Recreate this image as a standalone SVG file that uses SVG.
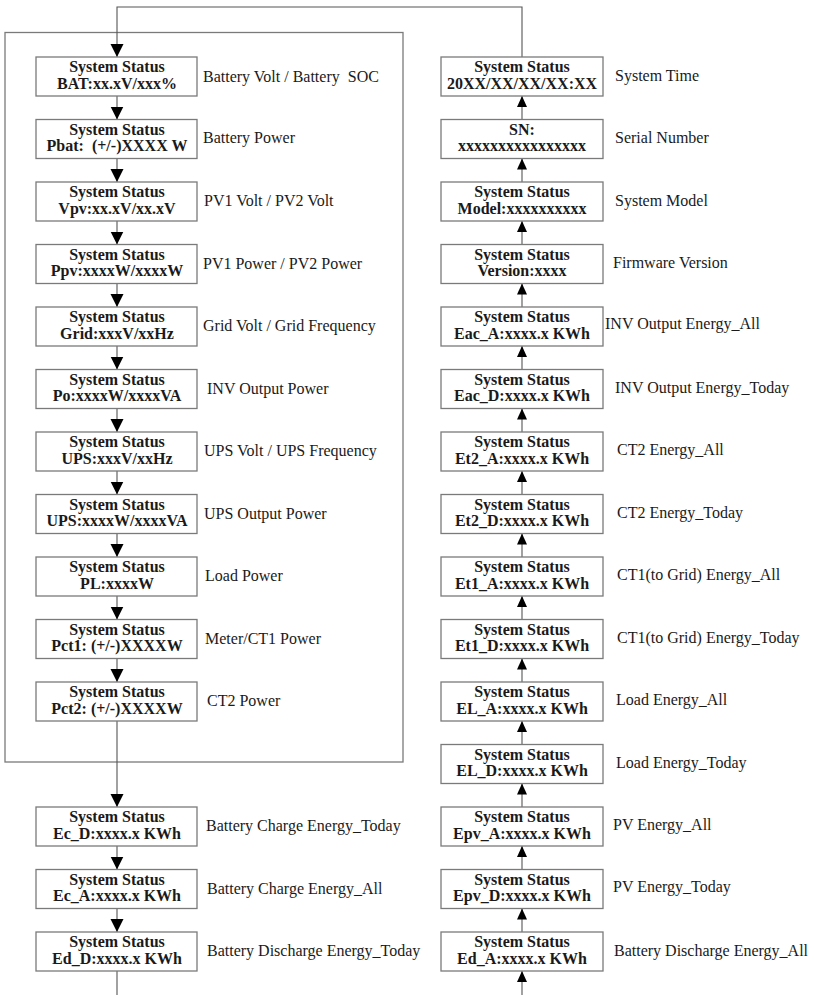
<svg xmlns="http://www.w3.org/2000/svg" width="814" height="995" viewBox="0 0 814 995">
<style>
.bg{fill:#ffffff}
.frame{fill:none;stroke:#7a7a7a;stroke-width:1.3}
.box{fill:#ffffff;stroke:#7a7a7a;stroke-width:1.3}
.bt{font-family:"Liberation Serif","Times New Roman",serif;font-weight:bold;font-size:16px;fill:#1a1a1a;text-anchor:middle}
.lb{font-family:"Liberation Serif","Times New Roman",serif;font-size:16px;fill:#1a1a1a;white-space:pre}
.ln{fill:none;stroke:#555555;stroke-width:1.1}
</style>
<defs>
<marker id="ad" markerUnits="userSpaceOnUse" markerWidth="14" markerHeight="14" refX="13" refY="6.5" orient="auto" viewBox="0 0 14 13">
<polygon points="0,0 13,6.5 0,13" fill="#000"/>
</marker>
<marker id="au" markerUnits="userSpaceOnUse" markerWidth="12" markerHeight="12" refX="11" refY="5" orient="auto" viewBox="0 0 12 10">
<polygon points="0,0 11,5 0,10" fill="#000"/>
</marker>
</defs>
<rect class="bg" x="0" y="0" width="814" height="995"/>
<rect class="frame" x="5" y="32.5" width="398" height="729.5"/>
<g id="connectors">
<polyline class="ln" points="522,57 522,7 117,7 117,57" marker-end="url(#ad)"/>
<line class="ln" x1="117" y1="96" x2="117" y2="119.5" marker-end="url(#ad)"/>
<line class="ln" x1="117" y1="158.5" x2="117" y2="182" marker-end="url(#ad)"/>
<line class="ln" x1="117" y1="221" x2="117" y2="244.5" marker-end="url(#ad)"/>
<line class="ln" x1="117" y1="283.5" x2="117" y2="307" marker-end="url(#ad)"/>
<line class="ln" x1="117" y1="346" x2="117" y2="369.5" marker-end="url(#ad)"/>
<line class="ln" x1="117" y1="408.5" x2="117" y2="432" marker-end="url(#ad)"/>
<line class="ln" x1="117" y1="471" x2="117" y2="494.5" marker-end="url(#ad)"/>
<line class="ln" x1="117" y1="533.5" x2="117" y2="557" marker-end="url(#ad)"/>
<line class="ln" x1="117" y1="596" x2="117" y2="619.5" marker-end="url(#ad)"/>
<line class="ln" x1="117" y1="658.5" x2="117" y2="682" marker-end="url(#ad)"/>
<line class="ln" x1="117" y1="721" x2="117" y2="807" marker-end="url(#ad)"/>
<line class="ln" x1="117" y1="846" x2="117" y2="869.5" marker-end="url(#ad)"/>
<line class="ln" x1="117" y1="908.5" x2="117" y2="932" marker-end="url(#ad)"/>
<line class="ln" x1="117" y1="971" x2="117" y2="995"/>
<line class="ln" x1="522" y1="995" x2="522" y2="971" marker-end="url(#au)"/>
<line class="ln" x1="522" y1="932" x2="522" y2="908.5" marker-end="url(#au)"/>
<line class="ln" x1="522" y1="869.5" x2="522" y2="846" marker-end="url(#au)"/>
<line class="ln" x1="522" y1="807" x2="522" y2="783.5" marker-end="url(#au)"/>
<line class="ln" x1="522" y1="744.5" x2="522" y2="721" marker-end="url(#au)"/>
<line class="ln" x1="522" y1="682" x2="522" y2="658.5" marker-end="url(#au)"/>
<line class="ln" x1="522" y1="619.5" x2="522" y2="596" marker-end="url(#au)"/>
<line class="ln" x1="522" y1="557" x2="522" y2="533.5" marker-end="url(#au)"/>
<line class="ln" x1="522" y1="494.5" x2="522" y2="471" marker-end="url(#au)"/>
<line class="ln" x1="522" y1="432" x2="522" y2="408.5" marker-end="url(#au)"/>
<line class="ln" x1="522" y1="369.5" x2="522" y2="346" marker-end="url(#au)"/>
<line class="ln" x1="522" y1="307" x2="522" y2="283.5" marker-end="url(#au)"/>
<line class="ln" x1="522" y1="244.5" x2="522" y2="221" marker-end="url(#au)"/>
<line class="ln" x1="522" y1="182" x2="522" y2="158.5" marker-end="url(#au)"/>
<line class="ln" x1="522" y1="119.5" x2="522" y2="96" marker-end="url(#au)"/>
</g>
<g id="L0"><rect class="box" x="36" y="57" width="161" height="39"/><text class="bt" x="117" y="72">System Status</text><text class="bt" x="117" y="88.5">BAT:xx.xV/xxx%</text><text class="lb" x="203" y="81.5" xml:space="preserve">Battery Volt / Battery  SOC</text></g>
<g id="L1"><rect class="box" x="36" y="119.5" width="161" height="39"/><text class="bt" x="117" y="134.5">System Status</text><text class="bt" x="117" y="151" xml:space="preserve">Pbat:  (+/-)XXXX W</text><text class="lb" x="203" y="143">Battery Power</text></g>
<g id="L2"><rect class="box" x="36" y="182" width="161" height="39"/><text class="bt" x="117" y="197">System Status</text><text class="bt" x="117" y="213.5">Vpv:xx.xV/xx.xV</text><text class="lb" x="204" y="206">PV1 Volt / PV2 Volt</text></g>
<g id="L3"><rect class="box" x="36" y="244.5" width="161" height="39"/><text class="bt" x="117" y="259.5">System Status</text><text class="bt" x="117" y="276">Ppv:xxxxW/xxxxW</text><text class="lb" x="203" y="268.5">PV1 Power / PV2 Power</text></g>
<g id="L4"><rect class="box" x="36" y="307" width="161" height="39"/><text class="bt" x="117" y="322">System Status</text><text class="bt" x="117" y="338.5">Grid:xxxV/xxHz</text><text class="lb" x="203" y="331">Grid Volt / Grid Frequency</text></g>
<g id="L5"><rect class="box" x="36" y="369.5" width="161" height="39"/><text class="bt" x="117" y="384.5">System Status</text><text class="bt" x="117" y="401">Po:xxxxW/xxxxVA</text><text class="lb" x="207" y="394">INV Output Power</text></g>
<g id="L6"><rect class="box" x="36" y="432" width="161" height="39"/><text class="bt" x="117" y="447">System Status</text><text class="bt" x="117" y="463.5">UPS:xxxV/xxHz</text><text class="lb" x="204" y="456">UPS Volt / UPS Frequency</text></g>
<g id="L7"><rect class="box" x="36" y="494.5" width="161" height="39"/><text class="bt" x="117" y="509.5">System Status</text><text class="bt" x="117" y="526">UPS:xxxxW/xxxxVA</text><text class="lb" x="204" y="518.5">UPS Output Power</text></g>
<g id="L8"><rect class="box" x="36" y="557" width="161" height="39"/><text class="bt" x="117" y="572">System Status</text><text class="bt" x="117" y="588.5">PL:xxxxW</text><text class="lb" x="205" y="581">Load Power</text></g>
<g id="L9"><rect class="box" x="36" y="619.5" width="161" height="39"/><text class="bt" x="117" y="634.5">System Status</text><text class="bt" x="117" y="651">Pct1: (+/-)XXXXW</text><text class="lb" x="205" y="643.5">Meter/CT1 Power</text></g>
<g id="L10"><rect class="box" x="36" y="682" width="161" height="39"/><text class="bt" x="117" y="697">System Status</text><text class="bt" x="117" y="713.5">Pct2: (+/-)XXXXW</text><text class="lb" x="207" y="705.5">CT2 Power</text></g>
<g id="L12"><rect class="box" x="36" y="807" width="161" height="39"/><text class="bt" x="117" y="822">System Status</text><text class="bt" x="117" y="838.5">Ec_D:xxxx.x KWh</text><text class="lb" x="206" y="831">Battery Charge Energy_Today</text></g>
<g id="L13"><rect class="box" x="36" y="869.5" width="161" height="39"/><text class="bt" x="117" y="884.5">System Status</text><text class="bt" x="117" y="901">Ec_A:xxxx.x KWh</text><text class="lb" x="207" y="893.5">Battery Charge Energy_All</text></g>
<g id="L14"><rect class="box" x="36" y="932" width="161" height="39"/><text class="bt" x="117" y="947">System Status</text><text class="bt" x="117" y="963.5">Ed_D:xxxx.x KWh</text><text class="lb" x="207" y="956">Battery Discharge Energy_Today</text></g>
<g id="R0"><rect class="box" x="441" y="57" width="162" height="39"/><text class="bt" x="522" y="72">System Status</text><text class="bt" x="522" y="88.5">20XX/XX/XX/XX:XX</text><text class="lb" x="615" y="81">System Time</text></g>
<g id="R1"><rect class="box" x="441" y="119.5" width="162" height="39"/><text class="bt" x="522" y="134.5">SN:</text><text class="bt" x="522" y="151">xxxxxxxxxxxxxxxx</text><text class="lb" x="615" y="143">Serial Number</text></g>
<g id="R2"><rect class="box" x="441" y="182" width="162" height="39"/><text class="bt" x="522" y="197">System Status</text><text class="bt" x="522" y="213.5">Model:xxxxxxxxxx</text><text class="lb" x="615" y="205.5">System Model</text></g>
<g id="R3"><rect class="box" x="441" y="244.5" width="162" height="39"/><text class="bt" x="522" y="259.5">System Status</text><text class="bt" x="522" y="276">Version:xxxx</text><text class="lb" x="613" y="268">Firmware Version</text></g>
<g id="R4"><rect class="box" x="441" y="307" width="162" height="39"/><text class="bt" x="522" y="322">System Status</text><text class="bt" x="522" y="338.5">Eac_A:xxxx.x KWh</text><text class="lb" x="605" y="329">INV Output Energy_All</text></g>
<g id="R5"><rect class="box" x="441" y="369.5" width="162" height="39"/><text class="bt" x="522" y="384.5">System Status</text><text class="bt" x="522" y="401">Eac_D:xxxx.x KWh</text><text class="lb" x="615" y="393">INV Output Energy_Today</text></g>
<g id="R6"><rect class="box" x="441" y="432" width="162" height="39"/><text class="bt" x="522" y="447">System Status</text><text class="bt" x="522" y="463.5">Et2_A:xxxx.x KWh</text><text class="lb" x="617" y="454.5">CT2 Energy_All</text></g>
<g id="R7"><rect class="box" x="441" y="494.5" width="162" height="39"/><text class="bt" x="522" y="509.5">System Status</text><text class="bt" x="522" y="526">Et2_D:xxxx.x KWh</text><text class="lb" x="617" y="517.5">CT2 Energy_Today</text></g>
<g id="R8"><rect class="box" x="441" y="557" width="162" height="39"/><text class="bt" x="522" y="572">System Status</text><text class="bt" x="522" y="588.5">Et1_A:xxxx.x KWh</text><text class="lb" x="617" y="580">CT1(to Grid) Energy_All</text></g>
<g id="R9"><rect class="box" x="441" y="619.5" width="162" height="39"/><text class="bt" x="522" y="634.5">System Status</text><text class="bt" x="522" y="651">Et1_D:xxxx.x KWh</text><text class="lb" x="617" y="642.5">CT1(to Grid) Energy_Today</text></g>
<g id="R10"><rect class="box" x="441" y="682" width="162" height="39"/><text class="bt" x="522" y="697">System Status</text><text class="bt" x="522" y="713.5">EL_A:xxxx.x KWh</text><text class="lb" x="616" y="705">Load Energy_All</text></g>
<g id="R11"><rect class="box" x="441" y="744.5" width="162" height="39"/><text class="bt" x="522" y="759.5">System Status</text><text class="bt" x="522" y="776">EL_D:xxxx.x KWh</text><text class="lb" x="616" y="767.5">Load Energy_Today</text></g>
<g id="R12"><rect class="box" x="441" y="807" width="162" height="39"/><text class="bt" x="522" y="822">System Status</text><text class="bt" x="522" y="838.5">Epv_A:xxxx.x KWh</text><text class="lb" x="613" y="829.5">PV Energy_All</text></g>
<g id="R13"><rect class="box" x="441" y="869.5" width="162" height="39"/><text class="bt" x="522" y="884.5">System Status</text><text class="bt" x="522" y="901">Epv_D:xxxx.x KWh</text><text class="lb" x="613" y="892">PV Energy_Today</text></g>
<g id="R14"><rect class="box" x="441" y="932" width="162" height="39"/><text class="bt" x="522" y="947">System Status</text><text class="bt" x="522" y="963.5">Ed_A:xxxx.x KWh</text><text class="lb" x="614" y="955.5">Battery Discharge Energy_All</text></g>
</svg>
